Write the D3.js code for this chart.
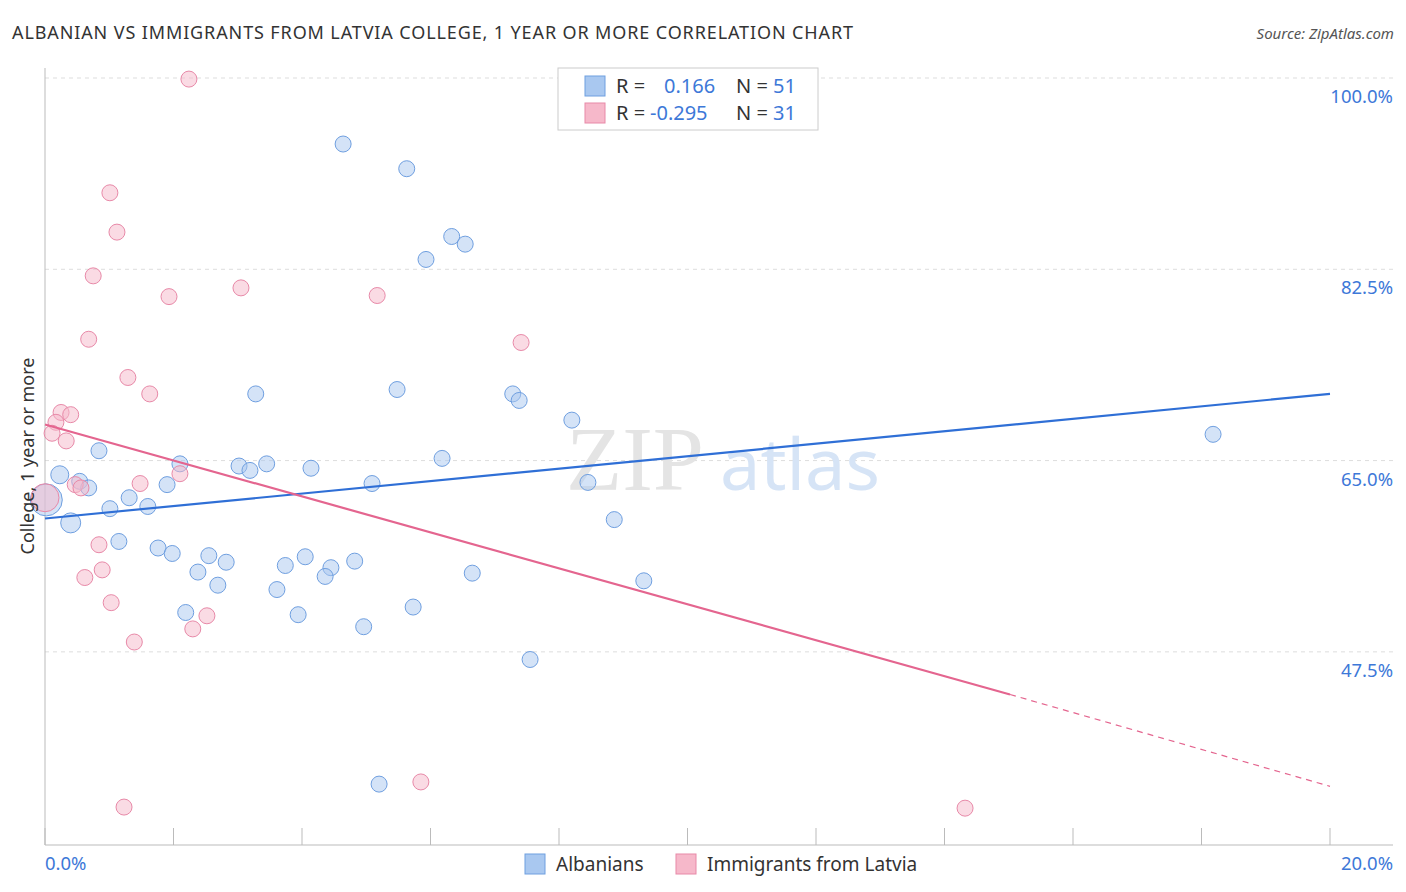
<!DOCTYPE html><html><head><meta charset="utf-8">
<script src="https://cdn.jsdelivr.net/npm/d3@7"></script>
<style>body{margin:0;background:#fff;font-family:"Noto Sans",sans-serif}</style></head><body>
<svg id="c" width="1406" height="892"></svg>
<script>
const blueX=[4.64,5.63,6.33,6.54,5.93,5.48,3.28,7.28,7.38,8.2,18.18,6.18,2.1,3.02,3.45,3.19,4.14,0.84,0.23,0.54,0.68,5.09,8.45,1.9,1.31,1.6,1.01,0.4,8.86,1.15,1.76,1.98,2.55,2.82,4.05,4.82,3.74,4.45,2.38,4.36,6.65,9.32,2.69,3.61,5.73,2.19,3.94,4.96,7.55,5.2,0.02];
const blueY=[93.96,91.7,85.5,84.8,83.4,71.5,71.1,71.1,70.5,68.7,67.4,65.2,64.7,64.5,64.7,64.1,64.3,65.9,63.7,63.1,62.5,62.9,63.0,62.8,61.6,60.8,60.6,59.3,59.6,57.6,57.0,56.5,56.3,55.7,56.2,55.8,55.4,55.2,54.8,54.4,54.7,54.0,53.6,53.2,51.6,51.1,50.9,49.8,46.8,35.4,61.4];
const blueR=[8,8,8,8,8,8,8,8,8,8,8,8,8,8,8,8,8,8,9,8,8,8,8,8,8,8,8,10,8,8,8,8,8,8,8,8,8,8,8,8,8,8,8,8,8,8,8,8,8,8,16];
const pinkX=[2.24,1.01,1.12,0.75,1.93,3.05,5.17,0.68,7.41,1.29,1.63,0.25,0.4,0.17,0.11,0.33,2.1,1.48,0.47,0.56,0.0,0.84,0.89,0.62,1.03,2.52,2.3,1.39,5.85,1.23,14.32];
const pinkY=[99.9,89.5,85.9,81.9,80.0,80.8,80.1,76.1,75.8,72.6,71.1,69.4,69.2,68.5,67.5,66.8,63.8,62.9,62.8,62.5,61.6,57.3,55.0,54.3,52.0,50.8,49.6,48.4,35.6,33.3,33.2];
const pinkR=pinkX.map((d,i)=>i==20?14:8);
const yTicks=[47.5,65,82.5,100];
const blueLine=[[0,59.7],[20,71.1]];
const pinkLine=[[0,68.3],[15.02,43.6]], pinkDash=[[15.02,43.6],[20,35.2]];

const svg=d3.select("#c");
const x=d3.scaleLinear().domain([0,20]).range([45,1330]);
const y=d3.scaleLinear().domain([29.83,100]).range([845,78]);
const blue="#a9c8f0",blueS="#6f9fe0",pink="#f6b8ca",pinkS="#e889a8";
yTicks.forEach(t=>{
 svg.append("line").attr("x1",45).attr("x2",1393).attr("y1",y(t)).attr("y2",y(t)).attr("stroke","#ddd").attr("stroke-dasharray","4,4");
 svg.append("text").attr("x",1393).attr("y",y(t)+25).attr("text-anchor","end").attr("fill","#3d78d8").attr("font-size",18.5).text(t.toFixed(1)+"%");
});
svg.append("line").attr("x1",45).attr("x2",45).attr("y1",68).attr("y2",845).attr("stroke","#bbb");
svg.append("line").attr("x1",45).attr("x2",1393).attr("y1",845).attr("y2",845).attr("stroke","#bbb");
d3.range(0,21,2).forEach(t=>svg.append("line").attr("x1",x(t)).attr("x2",x(t)).attr("y1",828).attr("y2",845).attr("stroke","#bbb"));
svg.append("text").attr("x",45).attr("y",870).attr("fill","#3d78d8").attr("font-size",18.5).text("0.0%");
svg.append("text").attr("x",1393).attr("y",870).attr("text-anchor","end").attr("fill","#3d78d8").attr("font-size",18.5).text("20.0%");
svg.append("text").attr("x",635).attr("y",490).attr("text-anchor","middle").attr("font-family","Liberation Serif,serif").attr("font-size",92).attr("fill","#e4e4e4").text("ZIP");
svg.append("text").attr("x",800).attr("y",490).attr("text-anchor","middle").attr("font-size",72).attr("fill","#d6e4f6").text("atlas");
svg.selectAll(".b").data(blueX).enter().append("circle").attr("cx",d=>x(d)).attr("cy",(d,i)=>y(blueY[i])).attr("r",(d,i)=>blueR[i]).attr("fill",blue).attr("fill-opacity",0.5).attr("stroke",blueS).attr("stroke-width",1);
svg.selectAll(".p").data(pinkX).enter().append("circle").attr("cx",d=>x(d)).attr("cy",(d,i)=>y(pinkY[i])).attr("r",(d,i)=>pinkR[i]).attr("fill",pink).attr("fill-opacity",0.5).attr("stroke",pinkS).attr("stroke-width",1);
const ln=d3.line().x(d=>x(d[0])).y(d=>y(d[1]));
svg.append("path").attr("d",ln(blueLine)).attr("stroke","#2f6fd6").attr("stroke-width",2.2).attr("fill","none");
svg.append("path").attr("d",ln(pinkLine)).attr("stroke","#e4658f").attr("stroke-width",2.2).attr("fill","none");
svg.append("path").attr("d",ln(pinkDash)).attr("stroke","#e4658f").attr("stroke-width",1.2).attr("stroke-dasharray","6,5").attr("fill","none");
svg.append("text").attr("x",12).attr("y",39).attr("font-size",18).attr("fill","#333").attr("textLength",841).text("ALBANIAN VS IMMIGRANTS FROM LATVIA COLLEGE, 1 YEAR OR MORE CORRELATION CHART");
svg.append("text").attr("x",1394).attr("y",39).attr("text-anchor","end").attr("font-size",15).attr("font-style","italic").attr("fill","#555").text("Source: ZipAtlas.com");
svg.append("text").attr("transform","translate(34,456) rotate(-90)").attr("text-anchor","middle").attr("font-size",18).attr("fill","#333").text("College, 1 year or more");
svg.append("rect").attr("x",558).attr("y",68).attr("width",260).attr("height",62).attr("fill","#fff").attr("stroke","#ccc");
[[blue,blueS,"0.166","51",86],[pink,pinkS,"-0.295","31",113]].forEach(r=>{
 svg.append("rect").attr("x",585).attr("y",r[4]-10).attr("width",20).attr("height",20).attr("fill",r[0]).attr("stroke",r[1]);
 const t=svg.append("text").attr("x",616).attr("y",r[4]+7).attr("font-size",20).attr("fill","#333");
 t.append("tspan").text("R = ");
 t.append("tspan").attr("x",r[2].length>5?650:664).attr("fill","#3d78d8").text(r[2]);
 t.append("tspan").attr("x",736).text("N = ");
 t.append("tspan").attr("x",773).attr("fill","#3d78d8").text(r[3]);
});
[[blue,blueS,"Albanians",525],[pink,pinkS,"Immigrants from Latvia",676]].forEach(r=>{
 svg.append("rect").attr("x",r[3]).attr("y",854).attr("width",20).attr("height",20).attr("fill",r[0]).attr("stroke",r[1]);
 svg.append("text").attr("x",r[3]+31).attr("y",871).attr("font-size",19).attr("fill","#333").text(r[2]);
});
</script></body></html>
